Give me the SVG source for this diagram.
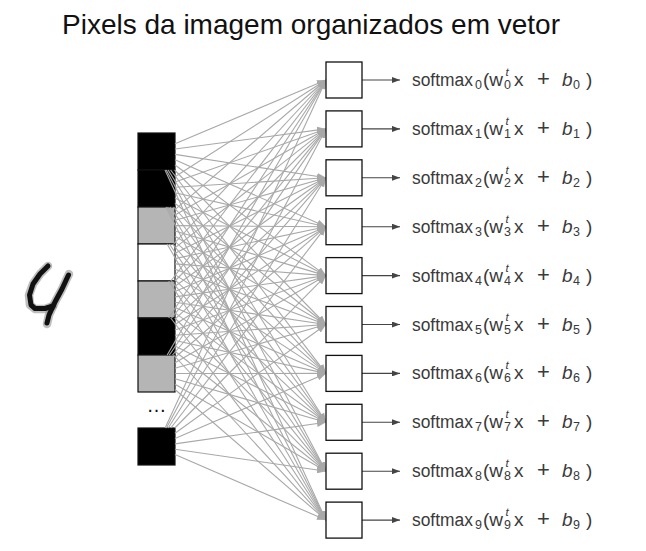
<svg xmlns="http://www.w3.org/2000/svg" width="646" height="551" viewBox="0 0 646 551">
<style>
.title{font-family:"Liberation Sans",Arial,sans-serif;font-size:28px;fill:#111}
.cell{stroke:#111;stroke-width:1.2}
.blk{fill:#000}.gry{fill:#b5b5b5}.wht{fill:#fff}
.box{fill:#fff;stroke:#111;stroke-width:1.3}
.conn path{fill:none;stroke:#a8a8a8;stroke-width:1.1;marker-end:url(#ag)}
.out{fill:none;stroke:#444;stroke-width:1.1;marker-end:url(#ak)}
.lbl{font-family:"Liberation Sans",Arial,sans-serif;font-size:19px;fill:#3a3a3a}
.sub{font-size:12.5px}
.sup{font-size:11.5px;font-style:italic}
.it{font-style:italic}
.pl{font-size:22px}
.dig{fill:none;stroke-linecap:round;stroke-linejoin:round}
</style>
<defs>
<marker id="ag" markerUnits="userSpaceOnUse" markerWidth="9" markerHeight="7" refX="9" refY="3.5" orient="auto"><path d="M0,0L9,3.5L0,7z" fill="#a8a8a8"/></marker>
<marker id="ak" markerUnits="userSpaceOnUse" markerWidth="8" markerHeight="6" refX="8" refY="3" orient="auto"><path d="M0,0L8,3L0,6z" fill="#444"/></marker>
</defs>
<rect width="646" height="551" fill="#fff"/>
<text class="title" x="62" y="33.5">Pixels da imagem organizados em vetor</text>

<g id="digit">
<path class="dig" d="M48,266 L40,274 L33,284 L29,295 L30,305 L35,309 L45,309 L53,306" stroke="#888" stroke-width="8.5" opacity="0.55"/>
<path class="dig" d="M69,274 L62,289 L55,302 L49,315 L47,324" stroke="#888" stroke-width="8.5" opacity="0.55"/>
<path class="dig" d="M48,266 L40,274 L33,284 L29.5,295 L31,305 L35,308.5 L45,308.5 L53,306" stroke="#111" stroke-width="5"/>
<path class="dig" d="M68.5,275 L62,289 L55,302 L49,315 L47,323" stroke="#111" stroke-width="5"/>
</g>

<g id="cell0"><rect class="cell blk" x="138" y="133" width="37" height="37"/></g>
<g id="cell1"><rect class="cell blk" x="138" y="170" width="37" height="37"/></g>
<g id="cell2"><rect class="cell gry" x="138" y="207" width="37" height="37"/></g>
<g id="cell3"><rect class="cell wht" x="138" y="244" width="37" height="37"/></g>
<g id="cell4"><rect class="cell gry" x="138" y="281" width="37" height="37"/></g>
<g id="cell5"><rect class="cell blk" x="138" y="318" width="37" height="37"/></g>
<g id="cell6"><rect class="cell gry" x="138" y="355" width="37" height="37"/></g>
<g id="dots"><text x="156.5" y="412" font-family="Liberation Sans,Arial,sans-serif" font-size="20" text-anchor="middle" fill="#111">…</text></g>
<g id="cell7"><rect class="cell blk" x="138" y="428" width="37" height="37"/></g>

<g id="connectors" class="conn">
<path d="M175,143.7L326,80"/><path d="M175,149L326,128.9"/><path d="M175,154.4L326,177.8"/><path d="M175,159.7L326,226.7"/><path d="M175,165L326,275.6"/><path d="M174.6,170L326,324.5"/><path d="M170.6,170L326,373.4"/><path d="M168.1,170L326,422.3"/><path d="M166.3,170L326,471.2"/><path d="M165,170L326,520.1"/>
<path d="M175,176.7L326,80"/><path d="M175,182L326,128.9"/><path d="M175,187.3L326,177.8"/><path d="M175,192.7L326,226.7"/><path d="M175,198L326,275.6"/><path d="M175,203.3L326,324.5"/><path d="M173.5,207L326,373.4"/><path d="M169.9,207L326,422.3"/><path d="M167.6,207L326,471.2"/><path d="M166,207L326,520.1"/>
<path d="M175,209.6L326,80"/><path d="M175,215L326,128.9"/><path d="M175,220.3L326,177.8"/><path d="M175,225.6L326,226.7"/><path d="M175,231L326,275.6"/><path d="M175,236.3L326,324.5"/><path d="M175,241.6L326,373.4"/><path d="M172.4,244L326,422.3"/><path d="M169.3,244L326,471.2"/><path d="M167.1,244L326,520.1"/>
<path d="M173.7,244L326,80"/><path d="M175,247.9L326,128.9"/><path d="M175,253.3L326,177.8"/><path d="M175,258.6L326,226.7"/><path d="M175,263.9L326,275.6"/><path d="M175,269.3L326,324.5"/><path d="M175,274.6L326,373.4"/><path d="M175,279.9L326,422.3"/><path d="M171.5,281L326,471.2"/><path d="M168.7,281L326,520.1"/>
<path d="M170.8,281L326,80"/><path d="M174.9,281L326,128.9"/><path d="M175,286.2L326,177.8"/><path d="M175,291.6L326,226.7"/><path d="M175,296.9L326,275.6"/><path d="M175,302.2L326,324.5"/><path d="M175,307.6L326,373.4"/><path d="M175,312.9L326,422.3"/><path d="M174.8,318L326,471.2"/><path d="M170.7,318L326,520.1"/>
<path d="M168.7,318L326,80"/><path d="M171.6,318L326,128.9"/><path d="M175,319.2L326,177.8"/><path d="M175,324.5L326,226.7"/><path d="M175,329.9L326,275.6"/><path d="M175,335.2L326,324.5"/><path d="M175,340.5L326,373.4"/><path d="M175,345.9L326,422.3"/><path d="M175,351.2L326,471.2"/><path d="M173.6,355L326,520.1"/>
<path d="M167.2,355L326,80"/><path d="M169.3,355L326,128.9"/><path d="M172.5,355L326,177.8"/><path d="M175,357.5L326,226.7"/><path d="M175,362.8L326,275.6"/><path d="M175,368.2L326,324.5"/><path d="M175,373.5L326,373.4"/><path d="M175,378.8L326,422.3"/><path d="M175,384.2L326,471.2"/><path d="M175,389.5L326,520.1"/>
<path d="M165.1,428L326,80"/><path d="M166.4,428L326,128.9"/><path d="M168.2,428L326,177.8"/><path d="M170.8,428L326,226.7"/><path d="M174.8,428L326,275.6"/><path d="M175,433.2L326,324.5"/><path d="M175,438.5L326,373.4"/><path d="M175,443.9L326,422.3"/><path d="M175,449.2L326,471.2"/><path d="M175,454.5L326,520.1"/>
</g>

<g id="outputs">
<path class="out" d="M362,80H400"/><path class="out" d="M362,128.9H400"/><path class="out" d="M362,177.8H400"/><path class="out" d="M362,226.7H400"/><path class="out" d="M362,275.6H400"/><path class="out" d="M362,324.5H400"/><path class="out" d="M362,373.4H400"/><path class="out" d="M362,422.3H400"/><path class="out" d="M362,471.2H400"/><path class="out" d="M362,520.1H400"/>
</g>

<g id="out0" transform="translate(0,80)"><rect class="box" x="326" y="-18" width="36" height="36"/><text class="lbl" transform="translate(412,6) scale(0.915,1)">softmax</text><text class="lbl" y="6"><tspan class="sub" x="475" y="9">0</tspan><tspan x="483" y="6">(w</tspan><tspan class="sup" x="505.5" y="-4">t</tspan><tspan class="sub" x="504" y="9">0</tspan><tspan x="514" y="6">x</tspan><tspan class="pl" x="537">+</tspan><tspan class="it" x="562">b</tspan><tspan class="sub" x="573" y="9">0</tspan><tspan x="586" y="6">)</tspan></text></g>
<g id="out1" transform="translate(0,128.9)"><rect class="box" x="326" y="-18" width="36" height="36"/><text class="lbl" transform="translate(412,6) scale(0.915,1)">softmax</text><text class="lbl" y="6"><tspan class="sub" x="475" y="9">1</tspan><tspan x="483" y="6">(w</tspan><tspan class="sup" x="505.5" y="-4">t</tspan><tspan class="sub" x="504" y="9">1</tspan><tspan x="514" y="6">x</tspan><tspan class="pl" x="537">+</tspan><tspan class="it" x="562">b</tspan><tspan class="sub" x="573" y="9">1</tspan><tspan x="586" y="6">)</tspan></text></g>
<g id="out2" transform="translate(0,177.8)"><rect class="box" x="326" y="-18" width="36" height="36"/><text class="lbl" transform="translate(412,6) scale(0.915,1)">softmax</text><text class="lbl" y="6"><tspan class="sub" x="475" y="9">2</tspan><tspan x="483" y="6">(w</tspan><tspan class="sup" x="505.5" y="-4">t</tspan><tspan class="sub" x="504" y="9">2</tspan><tspan x="514" y="6">x</tspan><tspan class="pl" x="537">+</tspan><tspan class="it" x="562">b</tspan><tspan class="sub" x="573" y="9">2</tspan><tspan x="586" y="6">)</tspan></text></g>
<g id="out3" transform="translate(0,226.7)"><rect class="box" x="326" y="-18" width="36" height="36"/><text class="lbl" transform="translate(412,6) scale(0.915,1)">softmax</text><text class="lbl" y="6"><tspan class="sub" x="475" y="9">3</tspan><tspan x="483" y="6">(w</tspan><tspan class="sup" x="505.5" y="-4">t</tspan><tspan class="sub" x="504" y="9">3</tspan><tspan x="514" y="6">x</tspan><tspan class="pl" x="537">+</tspan><tspan class="it" x="562">b</tspan><tspan class="sub" x="573" y="9">3</tspan><tspan x="586" y="6">)</tspan></text></g>
<g id="out4" transform="translate(0,275.6)"><rect class="box" x="326" y="-18" width="36" height="36"/><text class="lbl" transform="translate(412,6) scale(0.915,1)">softmax</text><text class="lbl" y="6"><tspan class="sub" x="475" y="9">4</tspan><tspan x="483" y="6">(w</tspan><tspan class="sup" x="505.5" y="-4">t</tspan><tspan class="sub" x="504" y="9">4</tspan><tspan x="514" y="6">x</tspan><tspan class="pl" x="537">+</tspan><tspan class="it" x="562">b</tspan><tspan class="sub" x="573" y="9">4</tspan><tspan x="586" y="6">)</tspan></text></g>
<g id="out5" transform="translate(0,324.5)"><rect class="box" x="326" y="-18" width="36" height="36"/><text class="lbl" transform="translate(412,6) scale(0.915,1)">softmax</text><text class="lbl" y="6"><tspan class="sub" x="475" y="9">5</tspan><tspan x="483" y="6">(w</tspan><tspan class="sup" x="505.5" y="-4">t</tspan><tspan class="sub" x="504" y="9">5</tspan><tspan x="514" y="6">x</tspan><tspan class="pl" x="537">+</tspan><tspan class="it" x="562">b</tspan><tspan class="sub" x="573" y="9">5</tspan><tspan x="586" y="6">)</tspan></text></g>
<g id="out6" transform="translate(0,373.4)"><rect class="box" x="326" y="-18" width="36" height="36"/><text class="lbl" transform="translate(412,6) scale(0.915,1)">softmax</text><text class="lbl" y="6"><tspan class="sub" x="475" y="9">6</tspan><tspan x="483" y="6">(w</tspan><tspan class="sup" x="505.5" y="-4">t</tspan><tspan class="sub" x="504" y="9">6</tspan><tspan x="514" y="6">x</tspan><tspan class="pl" x="537">+</tspan><tspan class="it" x="562">b</tspan><tspan class="sub" x="573" y="9">6</tspan><tspan x="586" y="6">)</tspan></text></g>
<g id="out7" transform="translate(0,422.3)"><rect class="box" x="326" y="-18" width="36" height="36"/><text class="lbl" transform="translate(412,6) scale(0.915,1)">softmax</text><text class="lbl" y="6"><tspan class="sub" x="475" y="9">7</tspan><tspan x="483" y="6">(w</tspan><tspan class="sup" x="505.5" y="-4">t</tspan><tspan class="sub" x="504" y="9">7</tspan><tspan x="514" y="6">x</tspan><tspan class="pl" x="537">+</tspan><tspan class="it" x="562">b</tspan><tspan class="sub" x="573" y="9">7</tspan><tspan x="586" y="6">)</tspan></text></g>
<g id="out8" transform="translate(0,471.2)"><rect class="box" x="326" y="-18" width="36" height="36"/><text class="lbl" transform="translate(412,6) scale(0.915,1)">softmax</text><text class="lbl" y="6"><tspan class="sub" x="475" y="9">8</tspan><tspan x="483" y="6">(w</tspan><tspan class="sup" x="505.5" y="-4">t</tspan><tspan class="sub" x="504" y="9">8</tspan><tspan x="514" y="6">x</tspan><tspan class="pl" x="537">+</tspan><tspan class="it" x="562">b</tspan><tspan class="sub" x="573" y="9">8</tspan><tspan x="586" y="6">)</tspan></text></g>
<g id="out9" transform="translate(0,520.1)"><rect class="box" x="326" y="-18" width="36" height="36"/><text class="lbl" transform="translate(412,6) scale(0.915,1)">softmax</text><text class="lbl" y="6"><tspan class="sub" x="475" y="9">9</tspan><tspan x="483" y="6">(w</tspan><tspan class="sup" x="505.5" y="-4">t</tspan><tspan class="sub" x="504" y="9">9</tspan><tspan x="514" y="6">x</tspan><tspan class="pl" x="537">+</tspan><tspan class="it" x="562">b</tspan><tspan class="sub" x="573" y="9">9</tspan><tspan x="586" y="6">)</tspan></text></g>
</svg>
